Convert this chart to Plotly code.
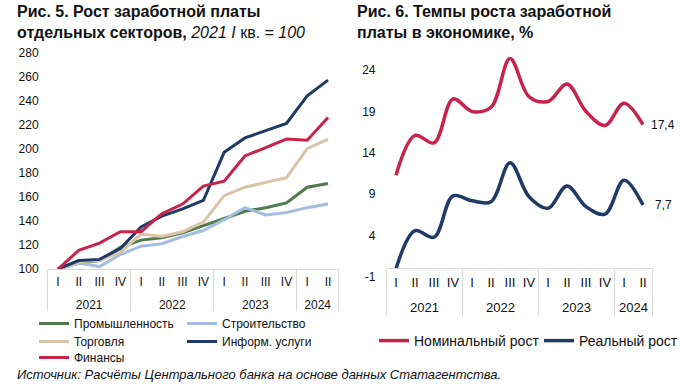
import plotly.graph_objects as go

# ---------------- data ----------------
years = ["2021", "2021", "2021", "2021", "2022", "2022", "2022", "2022",
         "2023", "2023", "2023", "2023", "2024", "2024"]
quarters = ["I", "II", "III", "IV", "I", "II", "III", "IV",
            "I", "II", "III", "IV", "I", "II"]

industry = [100, 105, 107, 118, 124, 126, 130, 136, 142, 148, 151, 155, 168, 171]
construction = [100, 105, 102, 112, 119, 121, 127, 132, 141, 151, 145, 147, 151, 154]
trade = [100, 106, 107, 114, 129, 127, 131, 139, 161, 168, 172, 176, 200, 208]
info = [100, 107, 108, 117, 135, 144, 150, 157, 197, 209, 215, 221, 244, 257]
finance = [100, 115.5, 121.5, 131, 131, 146, 154, 169, 173, 194, 201, 208, 207, 226]

nominal = [11.3, 16.1, 15.2, 20.5, 19.0, 19.5, 25.4, 20.8, 20.2, 22.3, 19.0, 17.3, 20.0, 17.4]
real = [0.0, 4.6, 3.8, 8.8, 8.2, 8.1, 12.8, 8.7, 7.3, 10.0, 7.5, 6.6, 10.7, 7.7]

left_ticks = [100, 120, 140, 160, 180, 200, 220, 240, 260, 280]
right_ticks = [-1, 4, 9, 14, 19, 24]
right_tick_text = ["-1", "4", "9", "14", "19", "24"]

# category keys and year grouping (derived from the lists above)
x_cats = [f"{q} {y}" for y, q in zip(years, quarters)]
year_labels = []
for y in years:
    if y not in year_labels:
        year_labels.append(y)
year_centers = []
for yl in year_labels:
    idx = [i for i, y in enumerate(years) if y == yl]
    year_centers.append(sum(idx) / len(idx))
bounds = [-0.5] + [i - 0.5 for i in range(1, len(years)) if years[i] != years[i - 1]] + [len(years) - 0.5]
xr = [-0.5, len(years) - 0.5]

# ---------------- style ----------------
FONT = "Liberation Sans, Arial, sans-serif"
W, H = 680, 391
C_GREEN = "#4E7D4B"
C_LBLUE = "#A4BDE2"
C_BEIGE = "#D9C4A6"
C_NAVY = "#1F3A66"
C_RED = "#C8234A"
GRID_C = "#D9D9D9"
TXT = "#111111"

def px_x(p):
    return p / W

def px_y(p):
    return 1 - p / H

fig = go.Figure()

left_series = [
    ("Промышленность", industry, C_GREEN, "legend"),
    ("Строительство", construction, C_LBLUE, "legend"),
    ("Торговля", trade, C_BEIGE, "legend3"),
    ("Информ. услуги", info, C_NAVY, "legend3"),
    ("Финансы", finance, C_RED, "legend4"),
]
for name, vals, col, lg in left_series:
    fig.add_trace(go.Scatter(x=x_cats, y=vals, name=name, mode="lines",
                             line=dict(color=col, width=3),
                             xaxis="x", yaxis="y", legend=lg))

fig.add_trace(go.Scatter(x=x_cats, y=nominal, name="Номинальный рост", mode="lines",
                         line=dict(color=C_RED, width=3.5, shape="spline", smoothing=1),
                         xaxis="x2", yaxis="y2", legend="legend2", legendwidth=120))
fig.add_trace(go.Scatter(x=x_cats, y=real, name="Реальный рост", mode="lines",
                         line=dict(color=C_NAVY, width=3.5, shape="spline", smoothing=1),
                         xaxis="x2", yaxis="y2", legend="legend2"))

# empty helper traces so that the year-label axes are drawn (no marks)
fig.add_trace(go.Scatter(x=[], y=[], xaxis="x3", yaxis="y", showlegend=False, hoverinfo="skip"))
fig.add_trace(go.Scatter(x=[], y=[], xaxis="x4", yaxis="y2", showlegend=False, hoverinfo="skip"))

axis_font = dict(family=FONT, size=12, color=TXT)
axis_font_r = dict(family=FONT, size=13, color=TXT)

def row_legend(xp, yp, ew=None, size=12):
    d = dict(orientation="h", x=px_x(xp), y=px_y(yp), xanchor="left", yanchor="top",
             font=dict(family=FONT, size=size, color=TXT),
             bgcolor="rgba(0,0,0,0)", itemwidth=30)
    if ew:
        d.update(entrywidth=ew, entrywidthmode="pixels")
    return d

def quarter_axis(dom, font, **kw):
    d = dict(domain=dom, type="category", categoryorder="array", categoryarray=x_cats,
             tickvals=x_cats, ticktext=quarters, range=xr,
             showgrid=False, zeroline=False, showline=True, linecolor=GRID_C, linewidth=1,
             ticks="", tickfont=font, ticklabelstandoff=2, tickangle=0)
    d.update(kw)
    return d

def year_axis(over, divlen, standoff, font, **kw):
    d = dict(overlaying=over, type="linear", range=xr,
             tickvals=year_centers, ticktext=year_labels,
             showgrid=False, zeroline=False, showline=False,
             ticks="", tickfont=font, ticklabelstandoff=standoff, tickangle=0,
             minor=dict(tickvals=bounds, ticks="outside", ticklen=divlen,
                        tickcolor=GRID_C, tickwidth=1, showgrid=False))
    d.update(kw)
    return d

fig.update_layout(
    width=W, height=H,
    margin=dict(l=0, r=0, t=0, b=0, autoexpand=False),
    paper_bgcolor="white", plot_bgcolor="white",
    font=dict(family=FONT, size=12, color=TXT),
    xaxis=quarter_axis([px_x(47.6), px_x(338.4)], axis_font, anchor="y"),
    xaxis3=year_axis("x", 41, 27, axis_font, anchor="y", domain=[px_x(47.6), px_x(338.4)]),
    yaxis=dict(domain=[px_y(269), px_y(52.5)], anchor="x",
               range=[100, 280], tickvals=left_ticks,
               showgrid=False, zeroline=False, showline=False,
               ticks="", tickfont=axis_font, ticklabelstandoff=8),
    xaxis2=quarter_axis([px_x(386.5), px_x(652.5)], axis_font_r, anchor="free", position=px_y(268)),
    xaxis4=year_axis("x2", 47, 30, axis_font_r, anchor="free", position=px_y(268),
                     domain=[px_x(386.5), px_x(652.5)]),
    yaxis2=dict(domain=[px_y(277), px_y(45.2)], anchor="x2",
                range=[-1, 27], tickvals=right_ticks, ticktext=right_tick_text,
                showgrid=False, zeroline=False, showline=False,
                ticks="", tickfont=axis_font, ticklabelstandoff=10),
    legend=row_legend(34, 309, 103),
    legend3=row_legend(34, 327, 103),
    legend4=row_legend(34, 343, 103),
    legend2=row_legend(374, 325, size=14),
    showlegend=True,
)

annotations = [
    dict(text="<b>Рис. 5. Рост заработной платы<br>отдельных секторов, </b><i>2021 I</i> кв. <i>= 100</i>",
         xref="paper", yref="paper", x=px_x(15), y=px_y(1), xanchor="left", yanchor="top",
         align="left", showarrow=False, font=dict(family=FONT, size=16, color=TXT)),
    dict(text="<b>Рис. 6. Темпы роста заработной<br>платы в экономике, %</b>",
         xref="paper", yref="paper", x=px_x(355), y=px_y(1), xanchor="left", yanchor="top",
         align="left", showarrow=False, font=dict(family=FONT, size=16, color=TXT)),
    dict(text="17,4", xref="paper", yref="y2", x=px_x(649), y=nominal[-1],
         xanchor="left", yanchor="middle", showarrow=False,
         font=dict(family=FONT, size=12, color=TXT)),
    dict(text="7,7", xref="paper", yref="y2", x=px_x(653), y=real[-1],
         xanchor="left", yanchor="middle", showarrow=False,
         font=dict(family=FONT, size=12, color=TXT)),
    dict(text="<i>Источник: Расчёты Центрального банка на основе данных Статагентства.</i>",
         xref="paper", yref="paper", x=px_x(15), y=px_y(374), xanchor="left", yanchor="middle",
         showarrow=False, font=dict(family=FONT, size=13, color=TXT)),
]
fig.update_layout(annotations=annotations)

fig.write_html("out.html", config={"displayModeBar": False},
               post_script="document.body.style.margin='0';")
